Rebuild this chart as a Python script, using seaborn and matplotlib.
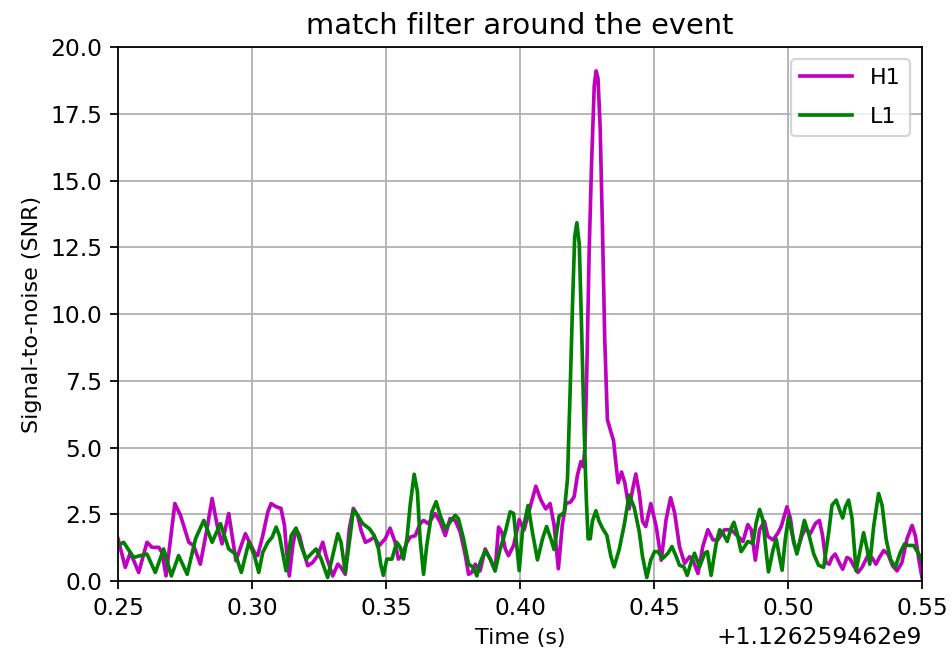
import numpy as np
import pandas as pd
import matplotlib
matplotlib.use("Agg")
import matplotlib.pyplot as plt
import seaborn as sns

# GPS second of the event; times below are seconds past it
T0 = 1126259462

h1_time = [
    0.2500, 0.2527, 0.2546, 0.2577, 0.2608, 0.2627, 0.2652, 0.2664, 0.2679, 0.2712,
    0.2733, 0.2764, 0.2782, 0.2807, 0.2832, 0.2851, 0.2870, 0.2888, 0.2913, 0.2940,
    0.2975, 0.3009, 0.3021, 0.3040, 0.3059, 0.3071, 0.3090, 0.3108, 0.3121, 0.3127,
    0.3139, 0.3152, 0.3164, 0.3177, 0.3189, 0.3208, 0.3226, 0.3245, 0.3264, 0.3276,
    0.3301, 0.3320, 0.3332, 0.3348, 0.3363, 0.3378, 0.3394, 0.3407, 0.3423, 0.3438,
    0.3456, 0.3475, 0.3497, 0.3515, 0.3534, 0.3546, 0.3559, 0.3578, 0.3590, 0.3609,
    0.3627, 0.3640, 0.3658, 0.3683, 0.3702, 0.3721, 0.3739, 0.3758, 0.3777, 0.3795,
    0.3808, 0.3820, 0.3833, 0.3851, 0.3870, 0.3889, 0.3907, 0.3920, 0.3932, 0.3945,
    0.3957, 0.3976, 0.3997, 0.4015, 0.4034, 0.4059, 0.4078, 0.4096, 0.4112, 0.4127,
    0.4143, 0.4158, 0.4171, 0.4189, 0.4202, 0.4214, 0.4227, 0.4236, 0.4242, 0.4249,
    0.4258, 0.4267, 0.4277, 0.4284, 0.4291, 0.4299, 0.4308, 0.4316, 0.4326, 0.4339,
    0.4349, 0.4357, 0.4366, 0.4379, 0.4391, 0.4407, 0.4420, 0.4432, 0.4445, 0.4457,
    0.4469, 0.4488, 0.4508, 0.4527, 0.4545, 0.4562, 0.4577, 0.4595, 0.4614, 0.4633,
    0.4645, 0.4664, 0.4682, 0.4701, 0.4720, 0.4738, 0.4763, 0.4788, 0.4813, 0.4832,
    0.4850, 0.4863, 0.4878, 0.4894, 0.4912, 0.4925, 0.4944, 0.4962, 0.4975, 0.4996,
    0.5009, 0.5021, 0.5033, 0.5052, 0.5064, 0.5083, 0.5102, 0.5117, 0.5129, 0.5142,
    0.5154, 0.5164, 0.5176, 0.5191, 0.5204, 0.5220, 0.5232, 0.5245, 0.5261, 0.5276,
    0.5298, 0.5313, 0.5328, 0.5341, 0.5357, 0.5373, 0.5390, 0.5407, 0.5425, 0.5444,
    0.5463, 0.5475, 0.5488, 0.5500,
]
h1_snr = [
    1.58, 0.51, 1.07, 0.32, 1.45, 1.26, 1.26, 1.07, 0.19, 2.90,
    2.46, 1.45, 1.33, 0.63, 1.96, 3.09, 2.08, 1.39, 2.53, 0.76,
    1.77, 1.07, 0.95, 1.70, 2.59, 2.90, 2.78, 2.72, 2.08, 1.33,
    0.19, 1.33, 1.96, 1.70, 1.20, 0.57, 0.69, 0.95, 1.45, 0.95,
    0.19, 0.63, 0.51, 0.25, 1.96, 2.72, 2.46, 1.89, 1.45, 1.52,
    1.64, 1.33, 1.58, 1.98, 1.45, 0.82, 0.95, 1.45, 1.64, 1.70,
    2.15, 2.27, 2.15, 2.53, 2.21, 1.70, 2.34, 2.27, 1.83, 1.01,
    0.25, 0.32, 0.63, 0.38, 1.20, 0.82, 0.38, 2.02, 1.83, 1.20,
    0.95, 1.33, 2.30, 1.91, 2.63, 3.55, 3.03, 2.70, 2.90, 2.11,
    0.46, 2.11, 2.90, 2.96, 3.16, 3.95, 4.47, 4.28, 5.00, 7.76,
    12.37, 15.66, 18.56, 19.11, 18.82, 16.98, 13.03, 9.08, 6.05, 5.59,
    5.26, 4.47, 3.68, 4.08, 3.68, 2.70, 3.42, 4.01, 3.29, 2.24,
    2.04, 2.90, 2.05, 0.78, 2.30, 3.12, 2.55, 1.29, 0.66, 0.91,
    0.78, 0.28, 1.29, 1.92, 1.54, 1.54, 1.92, 1.92, 1.67, 1.48,
    2.11, 1.92, 0.78, 1.92, 2.23, 1.67, 1.54, 1.79, 2.05, 2.78,
    2.34, 1.45, 1.07, 1.70, 1.96, 1.77, 2.15, 2.27, 1.70, 0.69,
    0.63, 0.88, 1.01, 0.69, 0.44, 0.88, 0.82, 0.57, 0.32, 0.51,
    0.95, 0.88, 0.63, 0.88, 1.14, 1.01, 0.57, 0.38, 0.69, 1.58,
    2.08, 1.70, 0.82, 0.13,
]

l1_time = [
    0.2500, 0.2521, 0.2558, 0.2583, 0.2608, 0.2639, 0.2670, 0.2699, 0.2726, 0.2758,
    0.2789, 0.2820, 0.2851, 0.2882, 0.2913, 0.2938, 0.2960, 0.2988, 0.3009, 0.3025,
    0.3040, 0.3059, 0.3075, 0.3090, 0.3102, 0.3114, 0.3127, 0.3146, 0.3164, 0.3183,
    0.3202, 0.3220, 0.3239, 0.3258, 0.3282, 0.3301, 0.3320, 0.3332, 0.3348, 0.3363,
    0.3378, 0.3394, 0.3413, 0.3438, 0.3456, 0.3472, 0.3480, 0.3490, 0.3503, 0.3522,
    0.3540, 0.3553, 0.3565, 0.3578, 0.3590, 0.3605, 0.3617, 0.3627, 0.3640, 0.3652,
    0.3671, 0.3687, 0.3702, 0.3721, 0.3739, 0.3758, 0.3770, 0.3789, 0.3808, 0.3826,
    0.3839, 0.3851, 0.3870, 0.3889, 0.3907, 0.3926, 0.3945, 0.3963, 0.3976, 0.3997,
    0.4009, 0.4030, 0.4046, 0.4065, 0.4084, 0.4099, 0.4115, 0.4127, 0.4146, 0.4165,
    0.4177, 0.4187, 0.4196, 0.4204, 0.4212, 0.4221, 0.4229, 0.4239, 0.4247, 0.4254,
    0.4262, 0.4270, 0.4283, 0.4295, 0.4308, 0.4324, 0.4339, 0.4351, 0.4370, 0.4389,
    0.4407, 0.4426, 0.4445, 0.4457, 0.4473, 0.4488, 0.4502, 0.4514, 0.4533, 0.4552,
    0.4567, 0.4583, 0.4595, 0.4611, 0.4624, 0.4639, 0.4651, 0.4670, 0.4689, 0.4699,
    0.4713, 0.4732, 0.4745, 0.4757, 0.4773, 0.4788, 0.4798, 0.4810, 0.4825, 0.4838,
    0.4850, 0.4869, 0.4881, 0.4894, 0.4906, 0.4919, 0.4927, 0.4944, 0.4956, 0.4968,
    0.4978, 0.4990, 0.5002, 0.5015, 0.5033, 0.5046, 0.5061, 0.5077, 0.5096, 0.5114,
    0.5133, 0.5152, 0.5164, 0.5180, 0.5195, 0.5204, 0.5214, 0.5226, 0.5239, 0.5254,
    0.5270, 0.5282, 0.5295, 0.5305, 0.5320, 0.5338, 0.5351, 0.5366, 0.5382, 0.5400,
    0.5419, 0.5435, 0.5450, 0.5469, 0.5488, 0.5500,
]
l1_snr = [
    1.33, 1.45, 0.88, 0.95, 1.01, 0.32, 1.20, 0.19, 0.95, 0.25,
    1.58, 2.27, 1.45, 2.15, 1.20, 1.01, 0.32, 1.45, 0.95, 0.32,
    1.07, 1.45, 1.64, 2.02, 1.70, 1.07, 0.38, 1.70, 1.98, 1.33,
    0.82, 1.01, 1.20, 0.82, 0.13, 0.95, 1.77, 1.45, 0.32, 1.45,
    2.65, 2.46, 2.15, 1.96, 1.70, 1.20, 0.63, 0.21, 0.82, 0.82,
    1.45, 1.26, 0.82, 1.58, 2.84, 4.00, 3.35, 1.58, 0.25, 1.33,
    2.59, 2.97, 2.46, 1.96, 2.21, 2.46, 2.34, 1.58, 0.63, 0.51,
    0.19, 0.69, 1.14, 0.82, 0.38, 1.20, 1.83, 2.59, 2.53, 0.39,
    1.84, 2.83, 1.84, 0.79, 1.58, 2.04, 1.58, 1.18, 2.43, 2.57,
    3.82, 7.11, 10.40, 12.90, 13.42, 12.63, 9.74, 5.79, 3.16, 1.58,
    1.58, 2.24, 2.63, 2.24, 1.97, 1.71, 0.92, 0.53, 1.18, 2.11,
    3.22, 2.76, 1.84, 0.92, 0.13, 0.79, 1.10, 1.10, 0.85, 1.04,
    1.29, 0.91, 0.59, 0.53, 0.21, 0.72, 1.04, 0.53, 1.04, 1.10,
    0.21, 1.41, 1.92, 1.79, 1.48, 1.98, 2.20, 1.79, 1.10, 1.29,
    1.48, 1.41, 2.17, 2.68, 2.30, 1.04, 0.34, 1.16, 1.57, 0.91,
    0.40, 1.58, 2.40, 1.77, 1.01, 1.58, 2.27, 1.77, 1.01, 0.59,
    0.51, 1.83, 2.84, 3.03, 2.59, 2.36, 2.78, 3.03, 2.34, 0.38,
    1.20, 1.81, 1.20, 0.63, 2.08, 3.28, 2.84, 1.58, 0.82, 0.51,
    1.07, 1.39, 1.33, 1.33, 1.01, 0.76,
]

detectors = ["H1", "L1"]
colors = {"H1": "m", "L1": "g"}

h1 = pd.DataFrame({"time": T0 + np.array(h1_time), "snr": h1_snr})
l1 = pd.DataFrame({"time": T0 + np.array(l1_time), "snr": l1_snr})

DPI = 160
plt.rcParams["xtick.labelsize"] = 10.5
plt.rcParams["ytick.labelsize"] = 10.5

fig = plt.figure(figsize=(952 / DPI, 655 / DPI), dpi=DPI)
ax = fig.add_axes([0.124, 0.113, 0.8445, 0.815])

for name, df in zip(detectors, [h1, l1]):
    sns.lineplot(data=df, x="time", y="snr", ax=ax, color=colors[name],
                 label=name, linewidth=1.65, estimator=None, errorbar=None,
                 sort=False)

ax.set_xlim(T0 + 0.25, T0 + 0.55)
ax.set_ylim(0, 20)
ax.set_yticks(np.arange(0, 20.1, 2.5))
ax.grid(True)
ax.set_xlabel("Time (s)")
ax.set_ylabel("Signal-to-noise (SNR)")
ax.set_title("match filter around the event", fontsize=13)
ax.legend(loc="upper right", handlelength=2.35, labelspacing=0.85,
          borderaxespad=0.55)

fig.savefig("out.png", dpi=DPI)
